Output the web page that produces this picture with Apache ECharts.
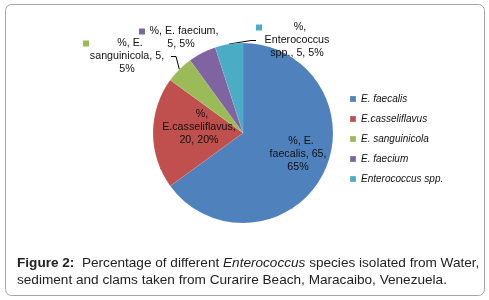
<!DOCTYPE html>
<html>
<head>
<meta charset="utf-8">
<script src="https://cdn.jsdelivr.net/npm/echarts@6/dist/echarts.min.js"></script>
<style>html,body{margin:0;padding:0;background:#fff}#c{width:489px;height:300px}</style>
</head>
<body>
<div id="c"></div>
<script>
const categories = ['E. faecalis', 'E.casseliflavus', 'E. sanguinicola', 'E. faecium', 'Enterococcus spp.'];
const values = [65, 20, 5, 5, 5];
const colors = ['#4F81BD', '#C0504D', '#9BBB59', '#8064A2', '#4BACC6'];
const labelTexts = [
  '%, E.\nfaecalis, 65,\n65%',
  '%,\nE.casseliflavus,\n20, 20%',
  '%, E.\nsanguinicola, 5,\n5%',
  '%, E. faecium,\n5, 5%',
  '%,\nEnterococcus\nspp., 5, 5%'
];
const labelPos = [ // [center x, top y, width]
  [298, 135, 72],
  [199, 108, 86],
  [127, 37, 88],
  [181, 25, 84],
  [297, 21, 82]
];
const captionLines = [
  '{b|Figure 2:}  Percentage of different {i|Enterococcus} species isolated from Water,',
  'sediment and clams taken from Curarire Beach, Maracaibo, Venezuela.'
];

const chart = echarts.init(document.getElementById('c'), null, {renderer: 'canvas'});
const rich = {t: {}};
colors.forEach((c, i) => { rich['k' + i] = {width: 6, height: 6, backgroundColor: c, align: 'left'}; });

const data = categories.map((name, i) => {
  const d = {name, value: values[i], itemStyle: {color: colors[i]}};
  if (i < 2) d.label = {position: 'inside'};
  if (i === 3) d.labelLine = {show: false};
  return d;
});

const capFont = 13.6;
chart.setOption({
  animation: false,
  graphic: [{
    type: 'rect', shape: {x: 5.5, y: 4.5, width: 479, height: 291, r: 6},
    style: {fill: 'none', stroke: '#a6a6a6', lineWidth: 1}, z: -1
  }],
  title: {
    left: 17, top: 255, padding: 0,
    text: captionLines.join('\n'),
    textStyle: {
      fontFamily: 'Liberation Sans', fontSize: capFont, fontWeight: 'normal', color: '#222', lineHeight: 17,
      rich: {
        b: {fontFamily: 'Liberation Sans', fontSize: capFont, fontWeight: 'bold', color: '#222', lineHeight: 17},
        i: {fontFamily: 'Liberation Sans', fontSize: capFont, fontStyle: 'italic', color: '#222', lineHeight: 17}
      }
    }
  },
  legend: {
    orient: 'vertical', left: 344, top: 88,
    itemWidth: 6, itemHeight: 6, itemGap: 8, icon: 'rect',
    data: categories,
    textStyle: {fontFamily: 'Liberation Sans', fontSize: 10, fontStyle: 'italic', color: '#111', lineHeight: 12}
  },
  series: [{
    type: 'pie', name: '%',
    center: [243, 133], radius: 90,
    startAngle: 90, clockwise: true,
    data,
    itemStyle: {borderColor: 'rgba(255,255,255,0.15)', borderWidth: 0.5},
    label: {
      show: true, position: 'outside',
      fontFamily: 'Liberation Sans', fontSize: 10.7, color: '#111', lineHeight: 13,
      align: 'center',
      formatter: p => {
        const lines = labelTexts[p.dataIndex].split('\n');
        return '{k' + p.dataIndex + '|}{t|' + lines[0] + '}\n' + lines.slice(1).join('\n');
      },
      rich
    },
    labelLine: {show: true, length: 5, length2: 5, lineStyle: {color: '#000', width: 1}},
    labelLayout: p => {
      const q = labelPos[p.dataIndex];
      return {x: q[0], y: q[1], width: q[2], align: 'center', verticalAlign: 'top'};
    }
  }]
});
</script>
</body>
</html>
